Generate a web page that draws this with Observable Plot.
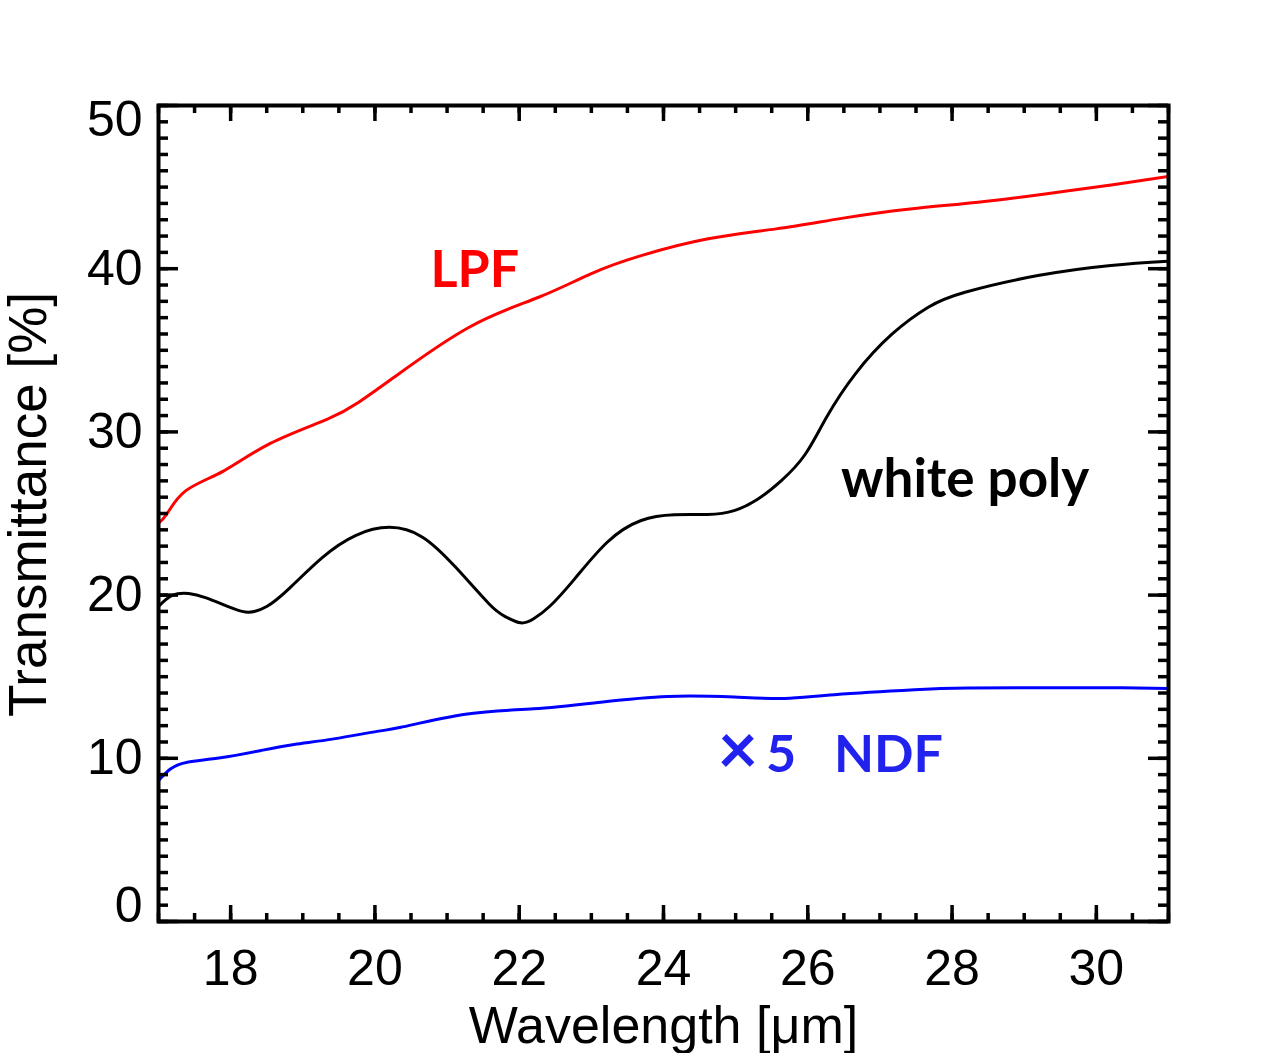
<!DOCTYPE html>
<html><head><meta charset="utf-8">
<script src="https://cdn.jsdelivr.net/npm/d3@7"></script>
<script src="https://cdn.jsdelivr.net/npm/@observablehq/plot@0.6"></script>
<style>body{margin:0;background:#fff}</style>
</head><body><div id="chart"></div>
<script>
// LPF (red)
const lpfWavelength = [17.0,17.12,17.38,17.9,18.55,19.35,19.77,20.25,21.3,22.27,23.0,23.69,24.62,25.56,26.49,27.42,28.36,29.29,30.23,31.0];
const lpfTrans      = [24.4,25.0,26.4,27.6,29.3,30.8,31.8,33.3,36.4,38.25,39.7,40.8,41.83,42.44,43.1,43.66,44.07,44.58,45.15,45.65];
// white poly (black)
const polyWavelength = [17.0,17.19,17.42,17.65,17.88,18.05,18.25,18.5,18.81,19.27,19.73,20.2,20.66,21.12,21.58,21.8,22.02,22.2,22.42,22.76,23.22,23.69,24.15,24.61,24.98,25.31,25.63,25.96,26.26,26.66,27.17,27.67,28.18,29.19,30.2,31.0];
const polyTrans      = [19.3,19.98,20.1,19.85,19.45,19.15,18.95,19.3,20.4,22.3,23.65,24.15,23.55,21.7,19.47,18.7,18.3,18.55,19.3,20.95,23.24,24.57,24.92,24.94,25.18,25.89,27.0,28.6,30.9,33.56,36.0,37.64,38.56,39.58,40.2,40.46];
// NDF x5 (blue)
const ndfWavelength = [17.0,17.17,17.4,17.86,18.42,18.88,19.43,20.03,20.36,21.28,22.2,23.13,24.06,24.98,25.68,26.37,27.48,28.22,29.5,30.35,31.0];
const ndfTrans      = [8.64,9.36,9.76,10.03,10.48,10.85,11.19,11.65,11.9,12.72,13.03,13.44,13.79,13.75,13.67,13.9,14.2,14.3,14.33,14.32,14.28];

const xMajorTicks = [18,20,22,24,26,28,30];
const xMinorTicks = d3.range(17, 31.001, 0.5);
const yMajorTicks = [0,10,20,30,40,50];
const yMinorTicks = d3.range(0, 50.001, 1);

const annotations = [
  {x: 20.77, y: 38.85, text: "LPF", color: "#ff0000", size: 52, anchor: "bottom"},
  {x: 26.46, y: 26.0, text: "white poly", color: "#000000", size: 53, anchor: "bottom"},
  {x: 24.75, y: 10.42, text: "×", color: "#2222ee", size: 70, anchor: "middle"},
  {x: 25.42, y: 9.15, text: "5\u00a0\u00a0\u00a0NDF", color: "#2222ee", size: 52, anchor: "bottom"}
];

const toRows = (xs, ys) => xs.map((x, i) => ({x, y: ys[i]}));

const W = 1264, H = 1053, mL = 158, mR = 96, mT = 105, mB = 132;
const iw = W - mL - mR, ih = H - mT - mB;
const tickStroke = {stroke: "black", strokeWidth: 3.5};

const marks = [
  Plot.line(toRows(ndfWavelength, ndfTrans), {x: "x", y: "y", stroke: "#0000ff", strokeWidth: 3, curve: "natural", clip: true}),
  Plot.line(toRows(polyWavelength, polyTrans), {x: "x", y: "y", stroke: "#000000", strokeWidth: 3, curve: "natural", clip: true}),
  Plot.line(toRows(lpfWavelength, lpfTrans), {x: "x", y: "y", stroke: "#ff0000", strokeWidth: 3, curve: "natural", clip: true}),
  // inward ticks, all four sides
  Plot.tickX(xMinorTicks, {x: d => d, insetTop: ih - 8, ...tickStroke}),
  Plot.tickX(xMinorTicks, {x: d => d, insetBottom: ih - 8, ...tickStroke}),
  Plot.tickX(xMajorTicks, {x: d => d, insetTop: ih - 16, ...tickStroke}),
  Plot.tickX(xMajorTicks, {x: d => d, insetBottom: ih - 16, ...tickStroke}),
  Plot.tickY(yMinorTicks, {y: d => d, insetRight: iw - 10, ...tickStroke}),
  Plot.tickY(yMinorTicks, {y: d => d, insetLeft: iw - 10, ...tickStroke}),
  Plot.tickY(yMajorTicks, {y: d => d, insetRight: iw - 20, ...tickStroke}),
  Plot.tickY(yMajorTicks, {y: d => d, insetLeft: iw - 20, ...tickStroke}),
  Plot.frame({stroke: "black", strokeWidth: 4}),
  // tick labels
  Plot.text(yMajorTicks.filter(d => d > 0 && d < 50), {y: d => d, text: d => String(d), frameAnchor: "left", dx: -16, textAnchor: "end", lineAnchor: "middle", fontSize: 50, fill: "black"}),
  Plot.text([0], {y: d => d, text: d => String(d), frameAnchor: "left", dx: -16, dy: -16, textAnchor: "end", lineAnchor: "middle", fontSize: 50, fill: "black"}),
  Plot.text([50], {y: d => d, text: d => String(d), frameAnchor: "left", dx: -16, dy: 14, textAnchor: "end", lineAnchor: "middle", fontSize: 50, fill: "black"}),
  Plot.text(xMajorTicks, {x: d => d, text: d => String(d), frameAnchor: "bottom", dy: 47, lineAnchor: "middle", fontSize: 50, fill: "black"}),
  // axis titles
  Plot.text(["Wavelength [μm]"], {text: d => d, frameAnchor: "bottom", dy: 121, lineAnchor: "bottom", fontSize: 52, fill: "black"}),
  Plot.text(["Transmittance [%]"], {text: d => d, frameAnchor: "left", textAnchor: "middle", rotate: -90, dx: -113, dy: -9, lineAnchor: "bottom", fontSize: 53, fill: "black"})
];
for (const a of annotations) {
  marks.push(Plot.text([a], {x: "x", y: "y", text: "text", fill: a.color, textAnchor: "start", lineAnchor: a.anchor, fontSize: a.size, fontWeight: "bold", fontFamily: "Lato, 'Open Sans', sans-serif"}));
}

const chart = Plot.plot({
  width: W, height: H,
  marginLeft: mL, marginRight: mR, marginTop: mT, marginBottom: mB,
  x: {domain: [17, 31], axis: null},
  y: {domain: [0, 50], axis: null},
  style: {fontFamily: "'Liberation Sans', Arial, sans-serif", background: "#fff", overflow: "visible"},
  marks
});
document.getElementById("chart").appendChild(chart);
</script>
</body></html>
